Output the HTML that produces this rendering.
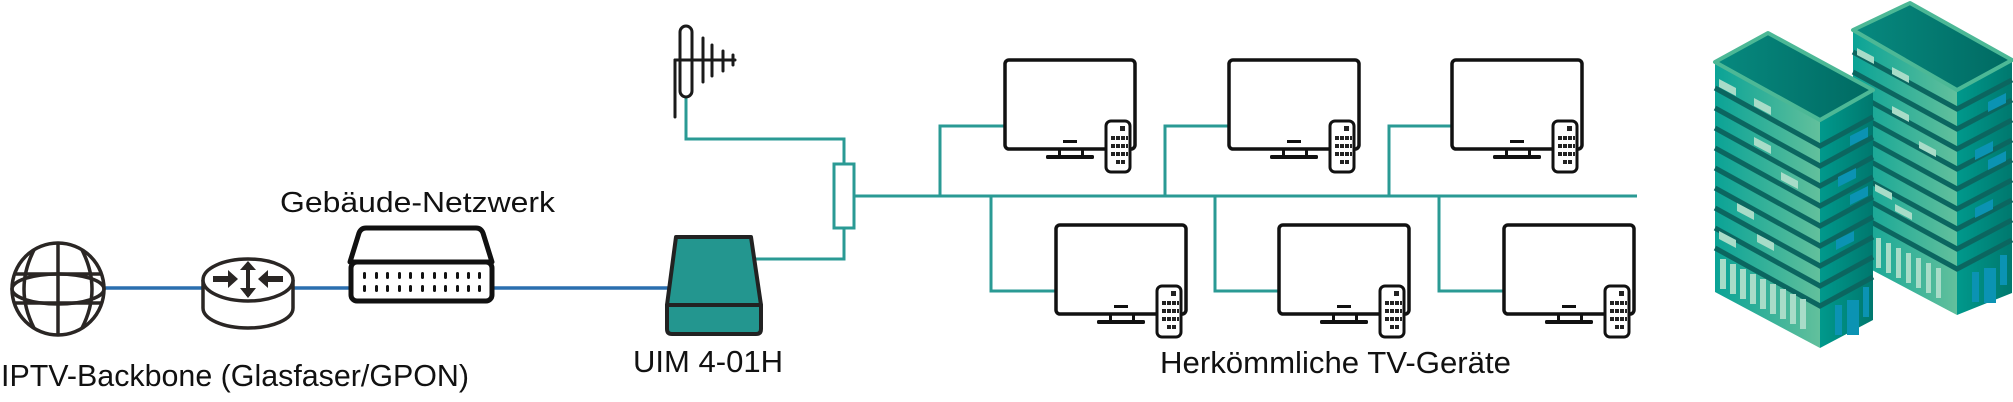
<!DOCTYPE html>
<html><head><meta charset="utf-8"><style>
html,body{margin:0;padding:0;background:#fff;}
svg{display:block;}
text{font-family:"Liberation Sans Narrow","Liberation Sans",sans-serif;fill:#111;}
</style></head><body>
<svg width="2013" height="402" viewBox="0 0 2013 402" xmlns="http://www.w3.org/2000/svg">
<defs>
<linearGradient id="gl" x1="0" x2="1" y1="0" y2="0">
<stop offset="0" stop-color="#0aa396"/><stop offset="1" stop-color="#62c09c"/></linearGradient>
<linearGradient id="gr" x1="0" x2="1" y1="0" y2="0">
<stop offset="0" stop-color="#00998c"/><stop offset="1" stop-color="#00786e"/></linearGradient>
<linearGradient id="groof" x1="0" x2="1" y1="0" y2="0">
<stop offset="0" stop-color="#07897f"/><stop offset="1" stop-color="#006a62"/></linearGradient>
<g id="tv">
<rect x="0" y="0" width="130" height="89" rx="4" fill="#fff" stroke="#111" stroke-width="3.5"/>
<rect x="58" y="80" width="14" height="3" fill="#111"/>
<rect x="53" y="89" width="3" height="8" fill="#111"/><rect x="76" y="89" width="3" height="8" fill="#111"/>
<rect x="41" y="95" width="48" height="4" rx="1.5" fill="#111"/>
<rect x="101" y="61" width="24" height="51" rx="5" fill="#fff" stroke="#111" stroke-width="3"/>
<g fill="#222">
<rect x="115" y="66" width="5" height="5"/>
<rect x="106" y="76" width="4" height="4"/><rect x="111" y="76" width="4" height="4"/><rect x="116" y="76" width="4" height="4"/><rect x="121" y="76" width="2" height="4"/>
<rect x="106" y="84" width="4" height="4"/><rect x="111" y="84" width="4" height="4"/><rect x="116" y="84" width="4" height="4"/><rect x="121" y="84" width="2" height="4"/>
<rect x="106" y="92" width="4" height="4"/><rect x="111" y="92" width="4" height="4"/><rect x="116" y="92" width="4" height="4"/><rect x="121" y="92" width="2" height="4"/>
<rect x="111" y="100" width="4" height="4"/><rect x="116" y="100" width="4" height="4"/>
</g>
</g>
</defs>

<!-- blue backbone line -->
<line x1="105" y1="288" x2="668" y2="288" stroke="#2b6faf" stroke-width="3.5"/>

<!-- globe -->
<g fill="none" stroke="#2a2624" stroke-width="3.5">
<circle cx="58" cy="289" r="46" fill="#fff"/>
<ellipse cx="58" cy="289" rx="46" ry="15"/>
<line x1="58" y1="243" x2="58" y2="335"/>
<line x1="14" y1="274" x2="102" y2="274"/>
<line x1="14" y1="303" x2="102" y2="303"/>
<path d="M34,250 Q14,289 34,328"/>
<path d="M82,250 Q102,289 82,328"/>
</g>

<!-- router -->
<g stroke="#2a2624" stroke-width="3.5">
<path d="M203,280 L203,308 A45,20 0 0 0 293,308 L293,280" fill="#fff"/>
<ellipse cx="248" cy="280" rx="45" ry="21" fill="#fff"/>
</g>
<g fill="#2a2624">
<rect x="213" y="276" width="16" height="6"/><polygon points="228,270 238,279 228,288"/>
<rect x="267" y="276" width="16" height="6"/><polygon points="268,270 258,279 268,288"/>
<rect x="246" y="268" width="4" height="28"/>
<polygon points="240,270 248,261 256,270"/><polygon points="240,288 248,298 256,288"/>
</g>

<!-- switch -->
<g stroke="#111" stroke-width="5" stroke-linejoin="round" fill="#fff">
<path d="M366,228 L476,228 Q481,228 483,233 L492,262 L350,262 L359,233 Q361,228 366,228 Z"/>
<rect x="351" y="262" width="141" height="39" rx="6"/>
</g>
<g fill="#111">
<rect x="363" y="272" width="3" height="7" rx="1.5"/><rect x="375" y="272" width="3" height="7" rx="1.5"/><rect x="386" y="272" width="3" height="7" rx="1.5"/><rect x="398" y="272" width="3" height="7" rx="1.5"/><rect x="409" y="272" width="3" height="7" rx="1.5"/><rect x="421" y="272" width="3" height="7" rx="1.5"/><rect x="433" y="272" width="3" height="7" rx="1.5"/><rect x="444" y="272" width="3" height="7" rx="1.5"/><rect x="456" y="272" width="3" height="7" rx="1.5"/><rect x="467" y="272" width="3" height="7" rx="1.5"/><rect x="478" y="272" width="3" height="7" rx="1.5"/>
<rect x="363" y="285" width="3" height="7" rx="1.5"/><rect x="375" y="285" width="3" height="7" rx="1.5"/><rect x="386" y="285" width="3" height="7" rx="1.5"/><rect x="398" y="285" width="3" height="7" rx="1.5"/><rect x="409" y="285" width="3" height="7" rx="1.5"/><rect x="421" y="285" width="3" height="7" rx="1.5"/><rect x="433" y="285" width="3" height="7" rx="1.5"/><rect x="444" y="285" width="3" height="7" rx="1.5"/><rect x="456" y="285" width="3" height="7" rx="1.5"/><rect x="467" y="285" width="3" height="7" rx="1.5"/><rect x="478" y="285" width="3" height="7" rx="1.5"/>
</g>

<!-- teal wiring -->
<g fill="none" stroke="#2a9a94" stroke-width="3">
<polyline points="686,97 686,139 844,139 844,163"/>
<polyline points="844,229 844,259 756,259"/>
<line x1="855" y1="196" x2="1637" y2="196"/>
<polyline points="940,196 940,126 1005,126"/>
<polyline points="1165,196 1165,126 1229,126"/>
<polyline points="1389,196 1389,126 1452,126"/>
<polyline points="991,196 991,291 1056,291"/>
<polyline points="1215,196 1215,291 1279,291"/>
<polyline points="1439,196 1439,291 1504,291"/>
</g>
<rect x="834" y="164" width="20" height="64" fill="#fff" stroke="#2a9a94" stroke-width="3"/>

<!-- antenna -->
<g stroke="#1a1a1a" stroke-width="3" fill="none" stroke-linecap="round">
<line x1="675" y1="60" x2="675" y2="117"/>
<rect x="680" y="26" width="12" height="71" rx="6"/>
<line x1="675" y1="60" x2="735" y2="60"/>
<line x1="703" y1="38" x2="703" y2="82"/>
<line x1="712" y1="45" x2="712" y2="76"/>
<line x1="723" y1="51" x2="723" y2="71"/>
<line x1="733" y1="55" x2="733" y2="65"/>
</g>

<!-- UIM -->
<g stroke="#222" stroke-width="4" stroke-linejoin="round" fill="#23968f">
<polygon points="676,237 751,237 761,305 667,305"/>
<path d="M667,305 L761,305 L761,329 Q761,334 756,334 L672,334 Q667,334 667,329 Z"/>
</g>

<!-- TVs -->
<use href="#tv" x="1005" y="60"/>
<use href="#tv" x="1229" y="60"/>
<use href="#tv" x="1452" y="60"/>
<use href="#tv" x="1056" y="225"/>
<use href="#tv" x="1279" y="225"/>
<use href="#tv" x="1504" y="225"/>

<!-- right building (behind) -->
<g>
<polygon points="1853,28 1957,90 1957,315 1853,260" fill="url(#gl)"/>
<polygon points="1957,90 2012,62 2012,293 1957,315" fill="url(#gr)"/>
<g stroke="#0b6660" stroke-width="5" fill="none">
<polyline points="1853,52 1957,109 2012,80"/>
<polyline points="1853,72 1957,129 2012,100"/>
<polyline points="1853,92 1957,149 2012,120"/>
<polyline points="1853,112 1957,169 2012,140"/>
<polyline points="1853,132 1957,189 2012,160"/>
<polyline points="1853,152 1957,209 2012,180"/>
<polyline points="1853,172 1957,229 2012,200"/>
<polyline points="1853,192 1957,249 2012,220"/>
<polyline points="1853,212 1957,269 2012,240"/>
</g>
<g fill="#a8dcc8">
<polygon points="1857,48 1874,57 1874,64 1857,55"/><polygon points="1892,67 1909,76 1909,83 1892,74"/>
<polygon points="1892,106 1909,115 1909,122 1892,113"/><polygon points="1919,141 1936,150 1936,157 1919,148"/>
<polygon points="1875,184 1892,193 1892,200 1875,191"/><polygon points="1895,204 1912,213 1912,220 1895,211"/>
<rect x="1876" y="238" width="5" height="30"/><rect x="1886" y="243" width="5" height="30"/><rect x="1896" y="248" width="5" height="30"/><rect x="1906" y="253" width="5" height="30"/><rect x="1916" y="258" width="5" height="30"/><rect x="1926" y="263" width="5" height="30"/><rect x="1936" y="268" width="5" height="30"/>
</g>
<g fill="#0b93b3">
<polygon points="1988,102 2006,93 2006,103 1988,112"/><polygon points="1975,150 1993,141 1993,151 1975,160"/>
<polygon points="1988,160 2006,151 2006,161 1988,170"/><polygon points="1975,208 1993,199 1993,209 1975,218"/>
<rect x="1972" y="272" width="7" height="30"/><rect x="1984" y="268" width="12" height="35"/><rect x="2000" y="255" width="7" height="30"/>
</g>
<polygon points="1910,3 2012,60 1957,90 1853,30" fill="url(#groof)" stroke="#4cb896" stroke-width="4" stroke-linejoin="round"/>
</g>

<!-- left building (front) -->
<g>
<polygon points="1715,62 1820,120 1820,348 1715,292" fill="url(#gl)"/>
<polygon points="1820,120 1873,92 1873,320 1820,348" fill="url(#gr)"/>
<g stroke="#0b6660" stroke-width="5" fill="none">
<polyline points="1715,88 1820,146 1873,117"/>
<polyline points="1715,108 1820,166 1873,137"/>
<polyline points="1715,128 1820,186 1873,157"/>
<polyline points="1715,148 1820,206 1873,177"/>
<polyline points="1715,168 1820,226 1873,197"/>
<polyline points="1715,188 1820,246 1873,217"/>
<polyline points="1715,208 1820,266 1873,237"/>
<polyline points="1715,228 1820,286 1873,257"/>
<polyline points="1715,248 1820,306 1873,277"/>
</g>
<g fill="#a8dcc8">
<polygon points="1719,79 1736,88 1736,96 1719,87"/><polygon points="1754,98 1771,107 1771,115 1754,106"/>
<polygon points="1754,137 1771,146 1771,154 1754,145"/><polygon points="1781,172 1798,181 1798,189 1781,180"/>
<polygon points="1737,203 1754,212 1754,220 1737,211"/><polygon points="1719,231 1736,240 1736,248 1719,239"/>
<polygon points="1757,234 1774,243 1774,251 1757,242"/>
<rect x="1720" y="259" width="6" height="30"/><rect x="1730" y="264" width="6" height="30"/><rect x="1740" y="269" width="6" height="30"/><rect x="1750" y="274" width="6" height="30"/><rect x="1760" y="279" width="6" height="30"/><rect x="1770" y="284" width="6" height="30"/><rect x="1780" y="289" width="6" height="30"/><rect x="1790" y="294" width="6" height="30"/><rect x="1800" y="299" width="6" height="30"/>
</g>
<g fill="#0b93b3">
<polygon points="1850,136 1868,127 1868,137 1850,146"/><polygon points="1838,177 1856,168 1856,178 1838,187"/>
<polygon points="1850,195 1868,186 1868,196 1850,205"/><polygon points="1836,240 1854,231 1854,241 1836,250"/>
<rect x="1835" y="305" width="7" height="30"/><rect x="1847" y="300" width="12" height="35"/><rect x="1863" y="287" width="6" height="30"/>
</g>
<polygon points="1768,33 1873,90 1820,120 1715,62" fill="url(#groof)" stroke="#4cb896" stroke-width="4" stroke-linejoin="round"/>
</g>

<!-- labels -->
<text x="280" y="212" font-size="29" textLength="275" lengthAdjust="spacingAndGlyphs">Gebäude-Netzwerk</text>
<text x="1" y="386" font-size="31" textLength="468" lengthAdjust="spacingAndGlyphs">IPTV-Backbone (Glasfaser/GPON)</text>
<text x="633" y="372" font-size="31" textLength="150" lengthAdjust="spacingAndGlyphs">UIM 4-01H</text>
<text x="1160" y="373" font-size="31" textLength="351" lengthAdjust="spacingAndGlyphs">Herkömmliche TV-Geräte</text>
</svg>
</body></html>
